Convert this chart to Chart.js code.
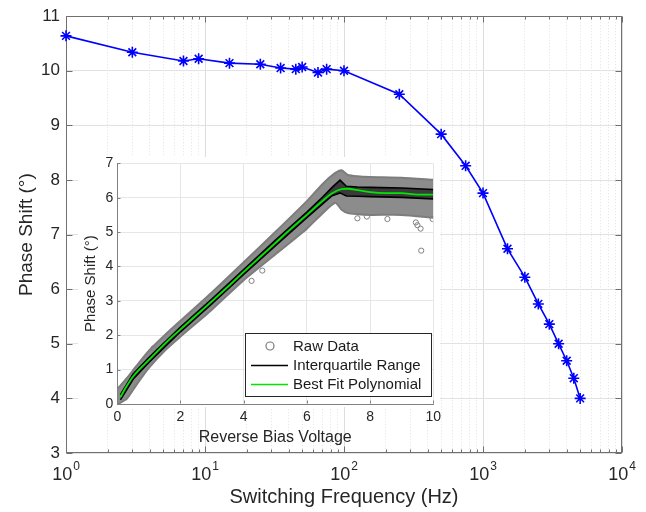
<!DOCTYPE html>
<html><head><meta charset="utf-8">
<script src="https://cdn.jsdelivr.net/npm/chart.js@4/dist/chart.umd.min.js"></script>
<style>
html,body{margin:0;padding:0;background:#fff;}
#wrap{position:relative;width:646px;height:512px;overflow:hidden;}
#main{position:absolute;left:0;top:0;}
#inset{position:absolute;left:74px;top:148px;}
</style></head><body>
<div id="wrap"><canvas id="main" width="646" height="512"></canvas><canvas id="inset" width="372" height="300"></canvas></div>
<script>
// ---- main chart data ----
const freqHz   = [1, 3, 7, 9, 15, 25, 35, 45, 50, 65, 75, 100, 250, 500, 750, 1000, 1500, 2000, 2500, 3000, 3500, 4000, 4500, 5000];
const phaseDeg = [10.64, 10.34, 10.18, 10.22, 10.14, 10.12, 10.05, 10.03, 10.07, 9.97, 10.03, 10.00, 9.57, 8.84, 8.26, 7.76, 6.74, 6.22, 5.73, 5.36, 5.00, 4.69, 4.37, 4.00];
const majorFreq = [1, 10, 100, 1000, 10000];
const majorFreqBase = '10';
const majorFreqExp = ['0', '1', '2', '3', '4'];

// ---- inset data ----
const voltFit  = [0.1, 0.25, 0.5, 1, 1.5, 2, 2.5, 3, 3.5, 4, 4.5, 5, 5.5, 6, 6.4, 6.8, 7.1, 7.3, 7.6, 8, 8.5, 9, 9.5, 10];
const fitPhase = [0.2, 0.45, 0.8, 1.28, 1.75, 2.17, 2.58, 2.99, 3.41, 3.84, 4.26, 4.68, 5.1, 5.5, 5.83, 6.13, 6.25, 6.26, 6.22, 6.16, 6.13, 6.13, 6.09, 6.09];
const voltIqr  = [0.1, 0.5, 1, 2, 3, 4, 5, 6, 6.5, 6.8, 7.05, 7.25, 7.6, 8, 9, 10];
const iqrUpper = [0.27, 0.87, 1.35, 2.24, 3.06, 3.91, 4.76, 5.58, 6.02, 6.3, 6.51, 6.33, 6.31, 6.3, 6.28, 6.24];
const iqrLower = [0.12, 0.72, 1.21, 2.1, 2.92, 3.77, 4.6, 5.42, 5.82, 6.06, 6.14, 6.05, 6.04, 6.03, 6.01, 5.96];
const voltRaw  = [0.02, 0.3, 0.6, 1, 1.5, 2, 3, 4, 5, 6, 6.5, 6.9, 7.1, 7.3, 7.6, 8, 9, 10];
const rawUpper = [0.45, 0.75, 1.1, 1.55, 2.0, 2.42, 3.25, 4.12, 5.0, 5.9, 6.4, 6.72, 6.8, 6.66, 6.62, 6.6, 6.58, 6.52];
const rawLower = [0.0, 0.15, 0.55, 1.05, 1.55, 1.96, 2.75, 3.6, 4.35, 5.1, 5.55, 5.85, 5.65, 5.55, 5.52, 5.5, 5.5, 5.42];
const outlierVolt  = [4.25, 4.59, 7.6, 7.9, 8.55, 9.45, 9.5, 9.6, 9.62, 9.98, 1.15, 2.75];
const outlierPhase = [3.58, 3.88, 5.4, 5.45, 5.38, 5.28, 5.2, 5.1, 4.46, 5.38, 1.62, 2.95];
const legendLabels = ['Raw Data', 'Interquartile Range', 'Best Fit Polynomial'];

const FONT = "'Liberation Sans', Arial, Helvetica, sans-serif";
Chart.defaults.font.family = FONT;
Chart.defaults.color = '#262626';

const xy = (xs, ys) => xs.map((x, i) => ({x, y: ys[i]}));

const allFreqTicks = [];
for (let e = 0; e < 4; e++) for (let m = 1; m < 10; m++) allFreqTicks.push(m * Math.pow(10, e));
allFreqTicks.push(10000);
const isMajor = v => majorFreq.indexOf(v) >= 0;

const mainFrame = {
  id: 'mainFrame',
  beforeDatasetsDraw(chart) {
    const {ctx, chartArea: a, scales: {x, y}} = chart;
    ctx.save();
    ctx.strokeStyle = '#707070';
    ctx.lineWidth = 1;
    const L = Math.round(a.left) + 0.5, R = Math.round(a.right) - 0.5, T = Math.round(a.top) + 0.5, B = Math.round(a.bottom) - 0.5;
    ctx.strokeRect(L, T, R - L, B - T);
    ctx.beginPath();
    allFreqTicks.forEach(v => {
      const px = Math.round(x.getPixelForValue(v)) + 0.5;
      const len = isMajor(v) ? 6 : 3;
      ctx.moveTo(px, B); ctx.lineTo(px, B - len);
      ctx.moveTo(px, T); ctx.lineTo(px, T + len);
    });
    for (let v = 3; v <= 11; v++) {
      const py = Math.round(y.getPixelForValue(v)) + 0.5;
      ctx.moveTo(L, py); ctx.lineTo(L + 6, py);
      ctx.moveTo(R, py); ctx.lineTo(R - 6, py);
    }
    ctx.stroke();
    // power-of-ten tick labels with raised exponent
    ctx.fillStyle = '#262626';
    ctx.textBaseline = 'alphabetic';
    ctx.textAlign = 'left';
    majorFreq.forEach((v, i) => {
      const px = x.getPixelForValue(v);
      ctx.font = '18px ' + FONT;
      const w1 = ctx.measureText(majorFreqBase).width;
      ctx.font = '12px ' + FONT;
      const w2 = ctx.measureText(majorFreqExp[i]).width;
      const left = px - (w1 + w2 + 1) / 2;
      ctx.font = '18px ' + FONT;
      ctx.fillText(majorFreqBase, left, 480);
      ctx.font = '12px ' + FONT;
      ctx.fillText(majorFreqExp[i], left + w1 + 1, 470);
    });
    ctx.restore();
  }
};

new Chart(document.getElementById('main'), {
  type: 'line',
  data: {datasets: [{
    data: xy(freqHz, phaseDeg),
    borderColor: '#0000ff', borderWidth: 1.6,
    pointStyle: 'star', pointRadius: 5.5, pointBorderColor: '#0000ff', pointBorderWidth: 1.6,
    tension: 0, fill: false, clip: false
  }]},
  options: {
    responsive: false, animation: false, devicePixelRatio: 1,
    layout: {padding: {left: 0, top: 15, right: 24, bottom: 0}},
    plugins: {legend: {display: false}, tooltip: {enabled: false}},
    scales: {
      x: {
        type: 'logarithmic', min: 1, max: 10000,
        afterBuildTicks: s => { s.ticks = allFreqTicks.map(v => ({value: v, major: isMajor(v)})); },
        afterFit: s => { s.height = 59; },
        ticks: {display: false, autoSkip: false, maxRotation: 0},
        grid: {drawTicks: false, color: c => (c.tick && isMajor(c.tick.value)) ? '#dcdcdc' : '#e2e2e2'},
        border: {display: false, dash: c => (c.tick && !isMajor(c.tick.value)) ? [1, 2] : []},
        title: {display: true, text: 'Switching Frequency (Hz)', font: {size: 20, lineHeight: 1}, padding: {top: 0, bottom: 5}}
      },
      y: {
        min: 3, max: 11,
        afterFit: s => { s.width = 66; },
        ticks: {stepSize: 1, padding: 6, font: {size: 17}},
        grid: {drawTicks: false, color: '#e2e2e2'},
        border: {display: false},
        title: {display: true, text: 'Phase Shift (°)', font: {size: 19, lineHeight: 1}, padding: {top: 17.5, bottom: 0}}
      }
    }
  },
  plugins: [mainFrame]
});

// ---- inset ----
const insetDecor = {
  id: 'insetDecor',
  beforeDraw(chart) {
    const ctx = chart.ctx;
    ctx.save();
    ctx.fillStyle = '#ffffff';
    ctx.fillRect(4, 9, 362, 250);
    ctx.restore();
  },
  afterDraw(chart) {
    const {ctx, chartArea: a, scales: {x, y}} = chart;
    ctx.save();
    ctx.strokeStyle = '#808080';
    ctx.lineWidth = 1;
    const L = Math.round(a.left) + 0.5, B = Math.round(a.bottom) - 0.5;
    ctx.beginPath();
    for (let v = 0; v <= 10; v += 2) { const px = Math.round(x.getPixelForValue(v)) + 0.5; ctx.moveTo(px, B); ctx.lineTo(px, B - 3); }
    for (let v = 0; v <= 7; v++) { const py = Math.round(y.getPixelForValue(v)) + 0.5; ctx.moveTo(L, py); ctx.lineTo(L + 3, py); }
    ctx.stroke();
    // legend
    const bx = 171, by = 185, bw = 186, bh = 63;
    ctx.fillStyle = '#ffffff';
    ctx.fillRect(bx, by, bw, bh);
    ctx.strokeStyle = '#262626';
    ctx.strokeRect(bx + 0.5, by + 0.5, bw, bh);
    const rows = [198, 217, 236];
    ctx.strokeStyle = '#7a7a7a'; ctx.lineWidth = 1.2;
    ctx.beginPath(); ctx.arc(196, rows[0], 4, 0, Math.PI * 2); ctx.stroke();
    ctx.lineWidth = 1.6;
    ctx.strokeStyle = '#000000';
    ctx.beginPath(); ctx.moveTo(177, rows[1] + 0.5); ctx.lineTo(214, rows[1] + 0.5); ctx.stroke();
    ctx.strokeStyle = '#00e600';
    ctx.beginPath(); ctx.moveTo(177, rows[2] + 0.5); ctx.lineTo(214, rows[2] + 0.5); ctx.stroke();
    ctx.fillStyle = '#1a1a1a';
    ctx.font = '15px ' + FONT;
    ctx.textBaseline = 'middle';
    ctx.textAlign = 'left';
    legendLabels.forEach((t, i) => ctx.fillText(t, 219, rows[i] + 1));
    ctx.restore();
  }
};

new Chart(document.getElementById('inset'), {
  type: 'line',
  data: {datasets: [
    {data: xy(voltFit, fitPhase), borderColor: '#00e600', borderWidth: 1.8, pointRadius: 0, cubicInterpolationMode: 'monotone', fill: false},
    {data: xy(voltIqr, iqrUpper), borderColor: '#000000', borderWidth: 1.6, pointRadius: 0, tension: 0, fill: false},
    {data: xy(voltIqr, iqrLower), borderColor: '#000000', borderWidth: 1.6, pointRadius: 0, tension: 0, fill: '-1', backgroundColor: '#3a3a3a'},
    {data: xy(outlierVolt, outlierPhase), showLine: false, pointStyle: 'circle', pointRadius: 2.6, pointBorderWidth: 1, pointBorderColor: '#808080', pointBackgroundColor: 'rgba(255,255,255,0)'},
    {data: xy(voltRaw, rawUpper), borderColor: '#7d7d7d', borderWidth: 2, pointRadius: 0, tension: 0.2, fill: false},
    {data: xy(voltRaw, rawLower), borderColor: '#7d7d7d', borderWidth: 2, pointRadius: 0, tension: 0.2, fill: '-1', backgroundColor: '#8c8c8c'}
  ]},
  options: {
    responsive: false, animation: false, devicePixelRatio: 1,
    layout: {padding: {left: 0, top: 15.3, right: 12.7, bottom: 0}},
    plugins: {legend: {display: false}, tooltip: {enabled: false}},
    scales: {
      x: {
        type: 'linear', min: 0, max: 10,
        afterFit: s => { s.height = 44; },
        ticks: {stepSize: 2, padding: 5, font: {size: 14}, maxRotation: 0},
        grid: {drawTicks: false, color: '#e6e6e6'},
        border: {display: true, color: '#808080', width: 1},
        title: {display: true, text: 'Reverse Bias Voltage', font: {size: 16, lineHeight: 1}, padding: {top: 0, bottom: 2}}
      },
      y: {
        min: 0, max: 7,
        afterFit: s => { s.width = 43.3; },
        ticks: {stepSize: 1, padding: 4, font: {size: 14}},
        grid: {drawTicks: false, color: '#e6e6e6'},
        border: {display: true, color: '#808080', width: 1},
        title: {display: true, text: 'Phase Shift (°)', font: {size: 15, lineHeight: 1}, padding: {top: 9.5, bottom: 0}}
      }
    }
  },
  plugins: [insetDecor]
});
</script>
</body></html>
